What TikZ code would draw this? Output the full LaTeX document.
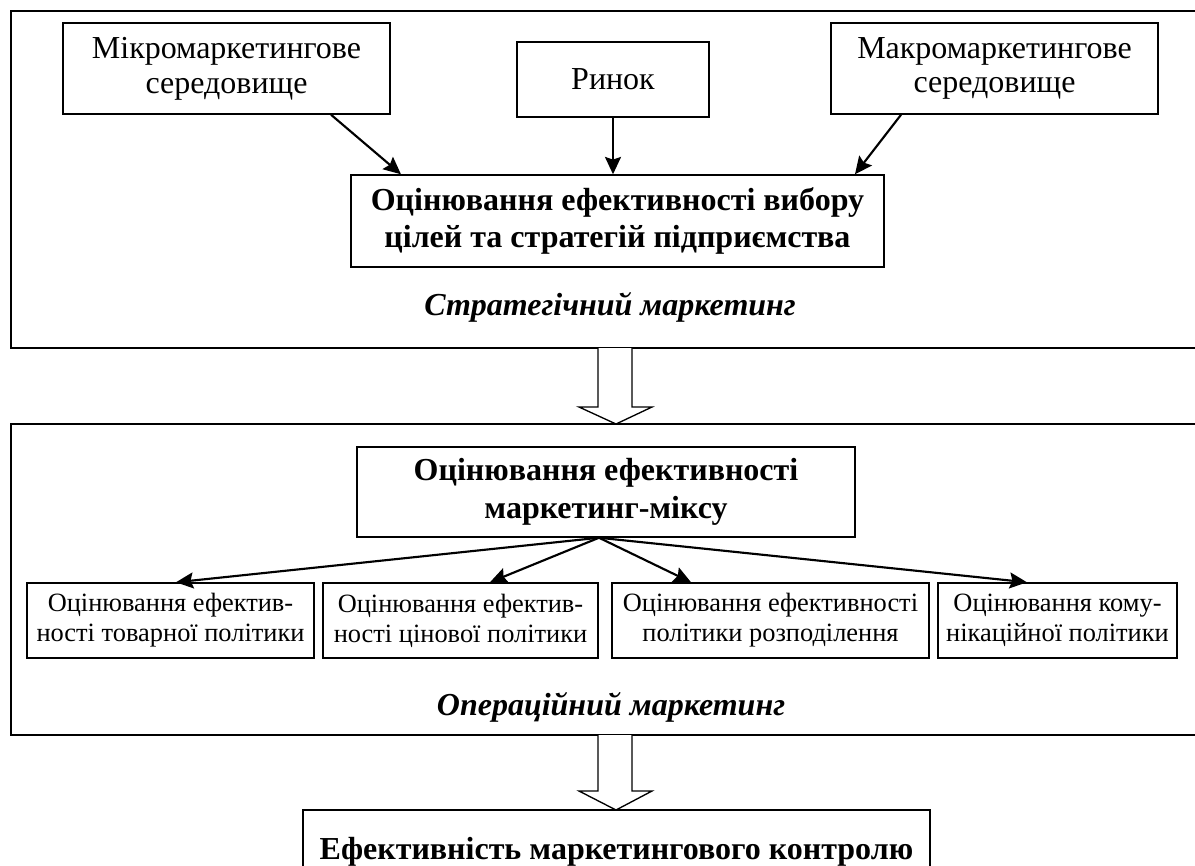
\documentclass[tikz,border=0pt]{standalone}
\usepackage{fontspec}
\setmainfont{Liberation Serif}
\usetikzlibrary{arrows.meta,calc}
\begin{document}
\begin{tikzpicture}[x=0.75pt,y=-0.75pt,
  box/.style={draw,line width=1.1pt,inner sep=0pt,align=center,font=\fontsize{24}{26}\selectfont},
  bbox/.style={draw,line width=1.1pt,inner sep=0pt,align=center,font=\fontsize{24}{28}\selectfont\bfseries},
  sbox/.style={draw,line width=1.1pt,inner sep=0pt,align=center,font=\fontsize{19.8}{22.5}\selectfont},
  lbl/.style={inner sep=0pt,font=\fontsize{24}{26}\selectfont\bfseries\itshape},
  frame/.style={line width=1.5pt},
  conn/.style={line width=1.6pt,-{Stealth[length=13pt,width=12pt,inset=2pt]}},
  hollow/.style={line width=1pt,fill=white,line join=miter}]
\useasboundingbox (0,0) rectangle (1195,865);
\clip (0,0) rectangle (1195,865);
% outer frames (open on the right)
\draw[frame] (1195,11) -- (11,11) -- (11,348) -- (1195,348);
\draw[frame] (1195,424) -- (11,424) -- (11,735) -- (1195,735);
% top group
\node[box,minimum width=245.25pt,minimum height=68.25pt] (mikro) at (226.5,68.5) {Мікромаркетингове\\середовище};
\node[box,minimum width=144pt,minimum height=56.25pt] (rynok) at (613,79.5) {Ринок};
\node[box,minimum width=245.25pt,minimum height=68.25pt] (makro) at (994.5,68.5) {Макромаркетингове\\середовище};
\node[bbox,minimum width=399.75pt,minimum height=69pt] (c1) at (617.5,221) {Оцінювання ефективності вибору\\цілей та стратегій підприємства};
\node[lbl] (strat) at (610,307) {Стратегічний маркетинг};
\draw[conn] ([xshift=78.4pt]mikro.south) -- ([xshift=-162.4pt]c1.north);
\draw[conn] (rynok.south) -- (rynok.south |- c1.north);
\draw[conn] ([xshift=-70.1pt]makro.south) -- ([xshift=178.1pt]c1.north);
% hollow arrow 1
\coordinate (h1a) at (598,348);
\coordinate (h1b) at (632,348);
\draw[hollow] (h1a) -- (598,407) -- (579,407) -- (616,424) -- (652,407) -- (632,407) -- (h1b);
% operational group
\node[bbox,minimum width=373.5pt,minimum height=67.5pt] (c2) at (606,492) {Оцінювання ефективності\\маркетинг-міксу};
\node[sbox,minimum width=215.25pt,minimum height=56.25pt] (b1) at (170.5,620.5) {Оцінювання ефектив-\\ності товарної політики};
\node[sbox,minimum width=206.25pt,minimum height=56.25pt] (b2) at (460.5,620.5) {Оцінювання ефектив-\\ності цінової політики};
\node[sbox,minimum width=237.75pt,minimum height=56.25pt] (b3) at (770.5,620.5) {Оцінювання ефективності\\політики розподілення};
\node[sbox,minimum width=179.25pt,minimum height=56.25pt] (b4) at (1057.5,620.5) {Оцінювання кому-\\нікаційної політики};
\node[lbl] (oper) at (611,707) {Операційний маркетинг};
\coordinate (src) at ([xshift=-5.25pt]c2.south);
\draw[conn] (src) -- ([xshift=4.1pt]b1.north);
\draw[conn] (src) -- ([xshift=22.1pt]b2.north);
\draw[conn] (src) -- ([xshift=-59.6pt]b3.north);
\draw[conn] (src) -- ([xshift=-22.9pt]b4.north);
% hollow arrow 2
\coordinate (h2a) at (598,735);
\coordinate (h2b) at (632,735);
\draw[hollow] (h2a) -- (598,791) -- (579,791) -- (616,810) -- (652,791) -- (632,791) -- (h2b);
% bottom box
\node[bbox,minimum width=470.25pt,minimum height=63pt] (eff) at (616.5,852) {Ефективність маркетингового контролю};
\end{tikzpicture}
\end{document}
